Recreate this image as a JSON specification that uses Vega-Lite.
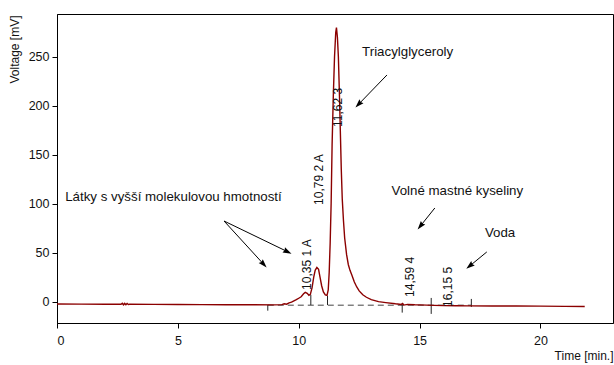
{
  "$schema": "https://vega.github.io/schema/vega-lite/v6.json",
  "width": 556,
  "height": 309,
  "autosize": {"type": "none"},
  "padding": {"left": 57, "top": 14, "right": 1, "bottom": 42},
  "config": {
    "font": "Liberation Sans",
    "view": {"stroke": "#000", "strokeWidth": 1},
    "axis": {"grid": false, "domainColor": "#000", "tickColor": "#000", "labelColor": "#111", "titleColor": "#111", "labelFont": "Liberation Sans", "titleFont": "Liberation Sans", "labelFontSize": 12.5, "titleFontSize": 12, "titleFontWeight": "normal", "tickSize": 5}
  },
  "datasets": {
    "trace": [
      {"t": 0, "v": -2.4}, {"t": 1, "v": -2.5}, {"t": 2, "v": -2.6}, {"t": 2.65, "v": -2.6},
      {"t": 2.7, "v": -1.6}, {"t": 2.75, "v": -3.2}, {"t": 2.8, "v": -1.8}, {"t": 2.85, "v": -3.2},
      {"t": 2.9, "v": -1.9}, {"t": 2.95, "v": -3.0}, {"t": 3.0, "v": -2.7}, {"t": 4, "v": -2.8},
      {"t": 5, "v": -2.9}, {"t": 6, "v": -3.0}, {"t": 7, "v": -3.1}, {"t": 8, "v": -3.2},
      {"t": 9, "v": -3.3}, {"t": 9.3, "v": -3.0}, {"t": 9.4, "v": -2.2}, {"t": 9.5, "v": -2.6},
      {"t": 9.6, "v": -1.2}, {"t": 9.7, "v": -0.5}, {"t": 9.8, "v": 0.8}, {"t": 9.9, "v": 2},
      {"t": 10.0, "v": 3.5}, {"t": 10.1, "v": 5}, {"t": 10.2, "v": 8}, {"t": 10.27, "v": 9.5},
      {"t": 10.35, "v": 8.5}, {"t": 10.42, "v": 6.5}, {"t": 10.48, "v": 7.5}, {"t": 10.55, "v": 14},
      {"t": 10.62, "v": 25}, {"t": 10.68, "v": 32}, {"t": 10.75, "v": 35}, {"t": 10.82, "v": 33},
      {"t": 10.88, "v": 25}, {"t": 10.95, "v": 16}, {"t": 11.02, "v": 10}, {"t": 11.1, "v": 7},
      {"t": 11.17, "v": 6.5}, {"t": 11.22, "v": 12}, {"t": 11.26, "v": 30}, {"t": 11.3, "v": 60},
      {"t": 11.34, "v": 100}, {"t": 11.38, "v": 160}, {"t": 11.43, "v": 210}, {"t": 11.48, "v": 250},
      {"t": 11.53, "v": 275}, {"t": 11.56, "v": 280}, {"t": 11.6, "v": 270}, {"t": 11.64, "v": 250},
      {"t": 11.68, "v": 215}, {"t": 11.72, "v": 175}, {"t": 11.76, "v": 135}, {"t": 11.8, "v": 105},
      {"t": 11.85, "v": 83}, {"t": 11.9, "v": 65}, {"t": 11.98, "v": 48}, {"t": 12.05, "v": 38},
      {"t": 12.12, "v": 32}, {"t": 12.2, "v": 27}, {"t": 12.3, "v": 20}, {"t": 12.4, "v": 15},
      {"t": 12.5, "v": 11}, {"t": 12.65, "v": 7}, {"t": 12.8, "v": 4.5}, {"t": 13.0, "v": 2},
      {"t": 13.3, "v": 0}, {"t": 13.6, "v": -1}, {"t": 14.0, "v": -2.2}, {"t": 14.25, "v": -2.8},
      {"t": 14.3, "v": -1.8}, {"t": 14.35, "v": -3.5}, {"t": 14.5, "v": -2.8}, {"t": 14.8, "v": -3.2},
      {"t": 15.0, "v": -3.3}, {"t": 15.3, "v": -3.5}, {"t": 15.6, "v": -3.8}, {"t": 16, "v": -4},
      {"t": 16.5, "v": -4.1}, {"t": 17, "v": -4.3}, {"t": 18, "v": -4.4}, {"t": 19, "v": -4.5},
      {"t": 20, "v": -4.6}, {"t": 21, "v": -4.8}, {"t": 21.83, "v": -5.0}
    ],
    "markers": [
      {"t": 8.72, "v1": -3.4, "v2": -9.2},
      {"t": 10.5, "v1": -3.4, "v2": 7},
      {"t": 11.19, "v1": -3.4, "v2": 6},
      {"t": 14.28, "v1": -1.6, "v2": -11.2},
      {"t": 15.48, "v1": 3.8, "v2": -12.5},
      {"t": 17.14, "v1": 2.8, "v2": -5.4}
    ],
    "baseline": [{"t1": 8.72, "t2": 17.14, "v": -3.6}],
    "peaklabels": [
      {"t": 10.34, "v": 12, "label": "10,35 1 A"},
      {"t": 10.84, "v": 98.8, "label": "10,79 2 A"},
      {"t": 11.62, "v": 178.5, "label": "11,62 3"},
      {"t": 14.6, "v": 4.8, "label": "14,59 4"},
      {"t": 16.17, "v": -5.4, "label": "16,15 5"}
    ],
    "notes": [
      {"t": 0.34, "v": 107, "label": "Látky s vyšší molekulovou hmotností"},
      {"t": 12.62, "v": 255, "label": "Triacylglyceroly"},
      {"t": 13.84, "v": 113, "label": "Volné mastné kyseliny"},
      {"t": 17.7, "v": 70, "label": "Voda"}
    ],
    "arrows": [
      {"t1": 6.91, "v1": 82.4, "t2": 9.54, "v2": 51.0, "ht": 9.54, "hv": 51.0, "ang": 116},
      {"t1": 6.91, "v1": 82.4, "t2": 8.55, "v2": 38.2, "ht": 8.55, "hv": 38.2, "ang": 137},
      {"t1": 13.65, "v1": 231.6, "t2": 12.47, "v2": 201.5, "ht": 12.47, "hv": 201.5, "ang": 224},
      {"t1": 15.63, "v1": 95.7, "t2": 15.03, "v2": 77.2, "ht": 15.03, "hv": 77.2, "ang": 219},
      {"t1": 17.78, "v1": 50.8, "t2": 17.07, "v2": 36.4, "ht": 17.07, "hv": 36.4, "ang": 231}
    ]
  },
  "layer": [
    {
      "data": {"name": "baseline"},
      "mark": {"type": "rule", "color": "#444", "strokeWidth": 1, "strokeDash": [6, 4]},
      "encoding": {
        "x": {"field": "t1", "type": "quantitative", "scale": {"domain": [0, 23], "nice": false, "zero": false},
          "axis": {"values": [0, 5, 10, 15, 20], "title": "Time [min.]", "labelPadding": 6, "titleX": 556, "titleY": 32, "titleAlign": "right", "titleBaseline": "middle"}},
        "x2": {"field": "t2"},
        "y": {"field": "v", "type": "quantitative", "scale": {"domain": [-21.8, 293.9], "nice": false, "zero": false},
          "axis": {"values": [0, 50, 100, 150, 200, 250], "title": "Voltage [mV]", "labelPadding": 3, "titleAngle": 270, "titleX": -43, "titleY": 1, "titleAlign": "right", "titleBaseline": "middle"}}
      }
    },
    {
      "data": {"name": "markers"},
      "mark": {"type": "rule", "color": "#222", "strokeWidth": 1},
      "encoding": {
        "x": {"field": "t", "type": "quantitative"},
        "y": {"field": "v1", "type": "quantitative"},
        "y2": {"field": "v2"}
      }
    },
    {
      "data": {"name": "trace"},
      "mark": {"type": "line", "color": "#8b0000", "strokeWidth": 1.4, "interpolate": "linear"},
      "encoding": {
        "x": {"field": "t", "type": "quantitative"},
        "y": {"field": "v", "type": "quantitative"}
      }
    },
    {
      "data": {"name": "peaklabels"},
      "mark": {"type": "text", "angle": 270, "align": "left", "baseline": "middle", "fontSize": 12, "color": "#111"},
      "encoding": {
        "x": {"field": "t", "type": "quantitative"},
        "y": {"field": "v", "type": "quantitative"},
        "text": {"field": "label"}
      }
    },
    {
      "data": {"name": "notes"},
      "mark": {"type": "text", "align": "left", "baseline": "middle", "fontSize": 13.3, "color": "#111"},
      "encoding": {
        "x": {"field": "t", "type": "quantitative"},
        "y": {"field": "v", "type": "quantitative"},
        "text": {"field": "label"}
      }
    },
    {
      "data": {"name": "arrows"},
      "mark": {"type": "rule", "color": "#000", "strokeWidth": 1},
      "encoding": {
        "x": {"field": "t1", "type": "quantitative"},
        "y": {"field": "v1", "type": "quantitative"},
        "x2": {"field": "t2"},
        "y2": {"field": "v2"}
      }
    },
    {
      "data": {"name": "arrows"},
      "mark": {"type": "point", "shape": "M0,-1L-0.65,1L0,0.75L0.65,1Z", "filled": true, "color": "#000", "size": 75, "opacity": 1, "strokeWidth": 0},
      "encoding": {
        "x": {"field": "ht", "type": "quantitative"},
        "y": {"field": "hv", "type": "quantitative"},
        "angle": {"field": "ang", "type": "quantitative", "scale": null}
      }
    }
  ]
}
